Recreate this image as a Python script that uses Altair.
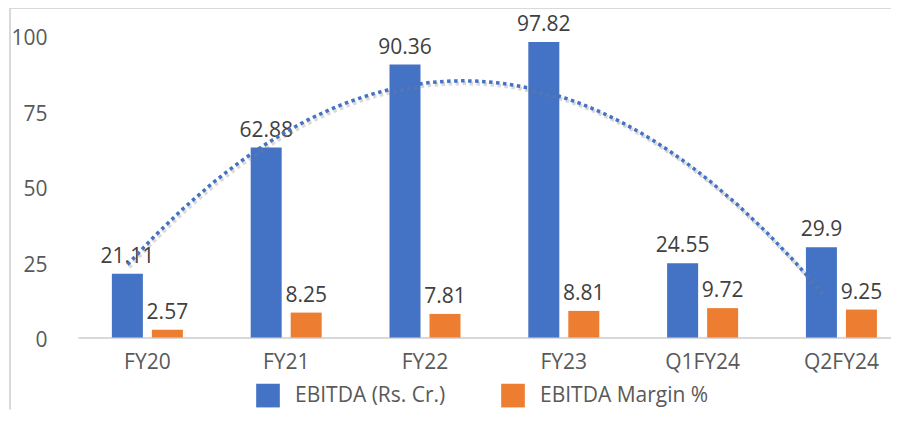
import altair as alt
import pandas as pd

categories = ["FY20", "FY21", "FY22", "FY23", "Q1FY24", "Q2FY24"]
ebitda = [21.11, 62.88, 90.36, 97.82, 24.55, 29.9]
margin = [2.57, 8.25, 7.81, 8.81, 9.72, 9.25]
series_names = ["EBITDA (Rs. Cr.)", "EBITDA Margin %"]
colors = ["#4472C4", "#ED7D31"]
y_ticks = [0, 25, 50, 75, 100]

rows = []
for c, e, m in zip(categories, ebitda, margin):
    rows.append({"cat": c, "series": series_names[0], "value": e})
    rows.append({"cat": c, "series": series_names[1], "value": m})
df = pd.DataFrame(rows)
trend_df = pd.DataFrame({"idx": list(range(1, len(categories) + 1)), "ebitda": ebitda})

FONT = "Open Sans"
X_RANGE = [3, 835.8]

x_enc = alt.X(
    "cat:N", sort=categories, title=None,
    scale=alt.Scale(range=X_RANGE, paddingInner=0.4885, paddingOuter=0.244),
    axis=alt.Axis(labelAngle=0, labelFontSize=21, labelColor="#595959", labelFont=FONT,
                  labelPadding=14, domainColor="#D9D9D9", domainWidth=2, ticks=False, grid=False),
)
xoff = alt.XOffset("series:N", sort=series_names,
                   scale=alt.Scale(paddingInner=0.225, paddingOuter=0))
y_enc = alt.Y(
    "value:Q", title=None, scale=alt.Scale(domain=[0, 100], nice=False),
    axis=alt.Axis(values=y_ticks, labelFontSize=21, labelColor="#595959", labelFont=FONT,
                  labelPadding=28, domain=False, ticks=False, grid=False, labelOffset=3),
)

base = alt.Chart(df)
bars = base.mark_bar().encode(
    x=x_enc, xOffset=xoff, y=y_enc,
    color=alt.Color(
        "series:N", sort=series_names,
        scale=alt.Scale(domain=series_names, range=colors),
        legend=alt.Legend(orient="none", legendX=181, legendY=348, direction="horizontal",
                          title=None, symbolType="square", symbolSize=560, symbolStrokeWidth=0,
                          labelFontSize=21, labelFont=FONT, labelColor="#595959",
                          labelOffset=15, columnPadding=55, padding=0, labelLimit=0),
    ),
)
labels = base.mark_text(baseline="alphabetic", dy=-11, fontSize=21, font=FONT,
                        color="#404040").encode(
    x=x_enc, xOffset=xoff, y=y_enc, text=alt.Text("value:Q"),
)
inner = alt.layer(bars, labels)

trend_x = alt.X("idx:Q", axis=None,
                scale=alt.Scale(domain=[0.6434, 6.6434], range=X_RANGE, nice=False, zero=False))
trend_base = alt.Chart(trend_df).transform_regression(
    "idx", "ebitda", method="poly", order=2, extent=[1, 6], as_=["idx", "value"]
)
shadow = trend_base.mark_line(color="#808080", opacity=0.3, strokeWidth=4,
                              strokeDash=[3.5, 3.5], xOffset=1.5, yOffset=2.5).encode(
    x=trend_x, y=y_enc)
trend = trend_base.mark_line(color="#4472C4", strokeWidth=3.5, strokeDash=[3.5, 3.5]).encode(
    x=trend_x, y=y_enc)

one = pd.DataFrame({"k": [0]})
frame_left = alt.Chart(one).mark_rule(color="#D9D9D9", strokeWidth=2).encode(
    x=alt.value(-65), y=alt.value(-27.5), y2=alt.value(374))
frame_top = alt.Chart(one).mark_rule(color="#D9D9D9", strokeWidth=2).encode(
    x=alt.value(-66), x2=alt.value(816), y=alt.value(-27.5))

chart = alt.layer(frame_left, frame_top, inner, shadow, trend).resolve_scale(
    x="independent"
).properties(
    width=816, height=302,
    padding={"left": 67, "top": 27.5, "right": 0, "bottom": 72},
    autosize=alt.AutoSizeParams(type="none"),
).configure_view(stroke=None)

chart.save("out.html", embed_options={"renderer": "svg", "actions": False})
